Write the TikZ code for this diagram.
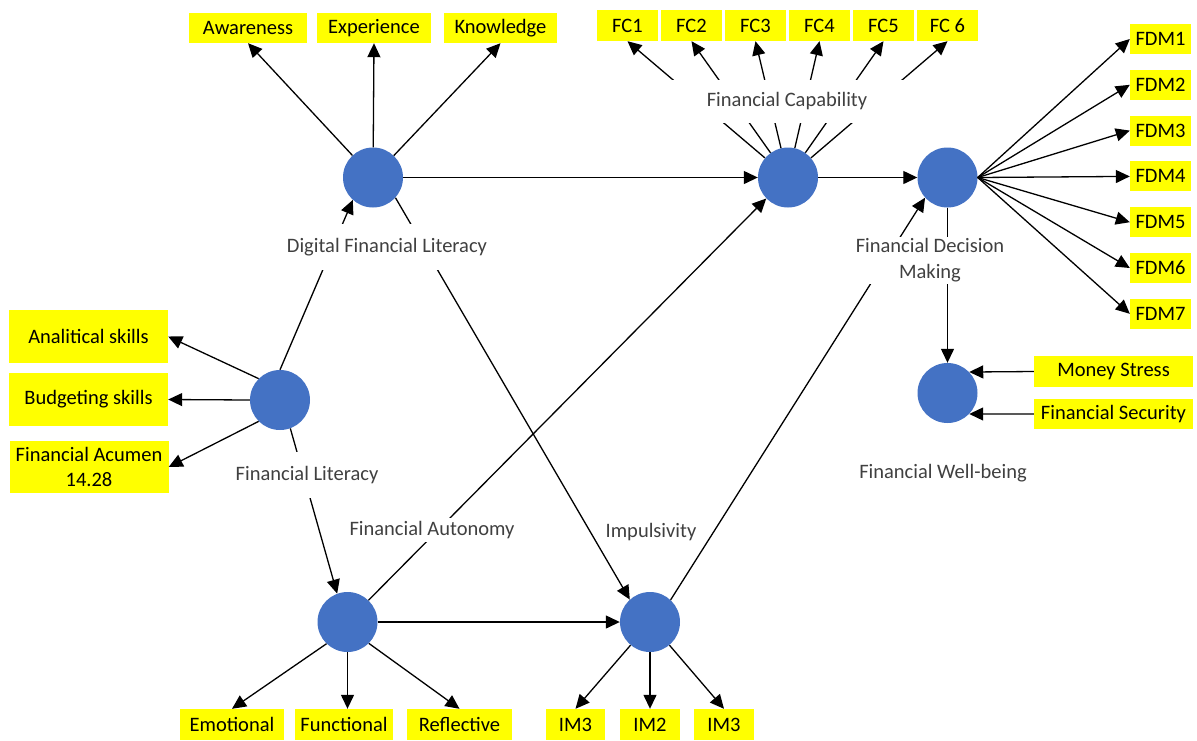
\documentclass[tikz,border=0pt]{standalone}
\usepackage{fontspec}
\setmainfont{Carlito}
\usetikzlibrary{arrows.meta}
\definecolor{nodeblue}{HTML}{4472C4}
\definecolor{labgray}{HTML}{404040}
\definecolor{boxyellow}{HTML}{FFFF00}
\begin{document}
\begin{tikzpicture}[x=1pt,y=-1pt,
  txt/.style={font=\fontsize{20.5}{25}\selectfont},
  lv/.style={circle, fill=nodeblue, minimum size=60pt, inner sep=0pt},
  ind/.style={txt, fill=boxyellow, text=black, inner sep=0pt, minimum height=30pt, align=center},
  lab/.style={txt, fill=white, text=labgray, inner sep=0pt, align=center},
  arr/.style={draw=black, line width=1.3pt, -{Triangle[length=14pt,width=13pt]}},
]
\useasboundingbox (0,0) rectangle (1197,740);
% latent variables
\node[lv] (dfl) at (373,177.5) {};
\node[lv] (fc)  at (788,177.5) {};
\node[lv] (fdm) at (947.5,177.5) {};
\node[lv] (fl)  at (280,400) {};
\node[lv] (fa)  at (347.5,622) {};
\node[lv] (im)  at (650,622) {};
\node[lv] (fwb) at (947.5,393) {};
% indicators of Digital Financial Literacy
\node[ind, minimum width=118pt] (aw) at (248,28) {Awareness};
\node[ind, minimum width=114pt] (ex) at (374,28) {Experience};
\node[ind, minimum width=113pt] (kn) at (500.5,28) {Knowledge};
% indicators of Financial Capability
\node[ind, minimum width=61pt, minimum height=31pt] (fc1) at (627.5,25.5) {FC1};
\node[ind, minimum width=61pt, minimum height=31pt] (fc2) at (691.5,25.5) {FC2};
\node[ind, minimum width=61pt, minimum height=31pt] (fc3) at (755.5,25.5) {FC3};
\node[ind, minimum width=61pt, minimum height=31pt] (fc4) at (819.5,25.5) {FC4};
\node[ind, minimum width=61pt, minimum height=31pt] (fc5) at (883.5,25.5) {FC5};
\node[ind, minimum width=61pt, minimum height=31pt] (fc6) at (947.5,25.5) {FC 6};
% indicators of Financial Decision Making
\node[ind, minimum width=61pt] (fdm1) at (1160.5,39) {FDM1};
\node[ind, minimum width=61pt] (fdm2) at (1160.5,84.8) {FDM2};
\node[ind, minimum width=61pt] (fdm3) at (1160.5,130.6) {FDM3};
\node[ind, minimum width=61pt] (fdm4) at (1160.5,176.4) {FDM4};
\node[ind, minimum width=61pt] (fdm5) at (1160.5,222.2) {FDM5};
\node[ind, minimum width=61pt] (fdm6) at (1160.5,268) {FDM6};
\node[ind, minimum width=61pt] (fdm7) at (1160.5,313.8) {FDM7};
% indicators of Financial Literacy
\node[ind, minimum width=159pt, minimum height=53pt] (an) at (88.5,336.5) {Analitical skills};
\node[ind, minimum width=159pt, minimum height=53pt] (bu) at (88.5,399.5) {Budgeting skills};
\node[ind, minimum width=159pt, minimum height=52pt] (ac) at (89,467) {Financial Acumen\\14.28};
% indicators of Financial Well-being
\node[ind, minimum width=159pt, minimum height=31pt] (ms) at (1113.5,371.5) {Money Stress};
\node[ind, minimum width=159pt] (fs) at (1113.5,414) {Financial Security};
% indicators of Financial Autonomy and Impulsivity
\node[ind, minimum width=104pt, minimum height=31pt] (emo) at (232,724.5) {Emotional};
\node[ind, minimum width=98pt, minimum height=31pt] (func) at (344,724.5) {Functional};
\node[ind, minimum width=105pt, minimum height=31pt] (refl) at (459.5,724.5) {Reflective};
\node[ind, minimum width=59pt, minimum height=31pt] (ima) at (575.5,724.5) {IM3};
\node[ind, minimum width=60pt, minimum height=31pt] (imb) at (650,724.5) {IM2};
\node[ind, minimum width=60pt, minimum height=31pt] (imc) at (724,724.5) {IM3};
% measurement arrows
\draw[arr] (dfl) -- (aw.south);
\draw[arr] (dfl) -- (ex.south);
\draw[arr] (dfl) -- (kn.south);
\foreach \i in {1,...,6} {\draw[arr] (fc) -- (fc\i.south);}
\foreach \i in {1,...,7} {\draw[arr] (fdm.east) -- (fdm\i.west);}
\draw[arr] (fl.135) -- (an.east);
\draw[arr] (fl.west) -- (bu.east);
\draw[arr] (fl.225) -- (ac.east);
\draw[arr] (ms.west) -- (fwb.44);
\draw[arr] (fs.west) -- (fwb.-44);
\draw[arr] (fa.226) -- (emo.north);
\draw[arr] (fa.south) -- (fa.south |- func.north);
\draw[arr] (fa.-45) -- (refl.north);
\draw[arr] (im.230) -- (ima.north);
\draw[arr] (im.south) -- (im.south |- imb.north);
\draw[arr] (im.-50) -- (imc.north);
% structural arrows
\draw[arr] (dfl) -- (fc);
\draw[arr] (fc) -- (fdm);
\draw[arr] (fdm) -- (fwb);
\draw[arr] (fl.north) -- (dfl.228);
\draw[arr] (fl.-70) -- (fa.110);
\draw[arr] (dfl.-42) -- (im.132);
\draw[arr] (fa.46) -- (fc.224);
\draw[arr] (im.47) -- (fdm.222);
\draw[arr] (fa) -- (im);
% construct labels (white boxes cover the lines)
\node[lab, minimum width=215pt, minimum height=46pt] (ldfl) at (387,247) {Digital Financial Literacy};
\node[lab, minimum width=240pt, minimum height=43pt] (lfc) at (787,101.5) {Financial Capability};
\node[lab, minimum width=170pt, minimum height=47pt, font=\fontsize{20.5}{26}\selectfont] (lfdm) at (930,260.5) {Financial Decision\\Making};
\node[lab, minimum width=160pt, minimum height=46pt] (lfl) at (307,475) {Financial Literacy};
\node[lab, minimum width=175pt, minimum height=24pt] (lfa) at (432,530) {Financial Autonomy};
\node[lab, inner xsep=3pt, inner ysep=2pt] (lim) at (651,532) {Impulsivity};
\node[lab] (lfwb) at (943,473) {Financial Well-being};
\end{tikzpicture}
\end{document}
